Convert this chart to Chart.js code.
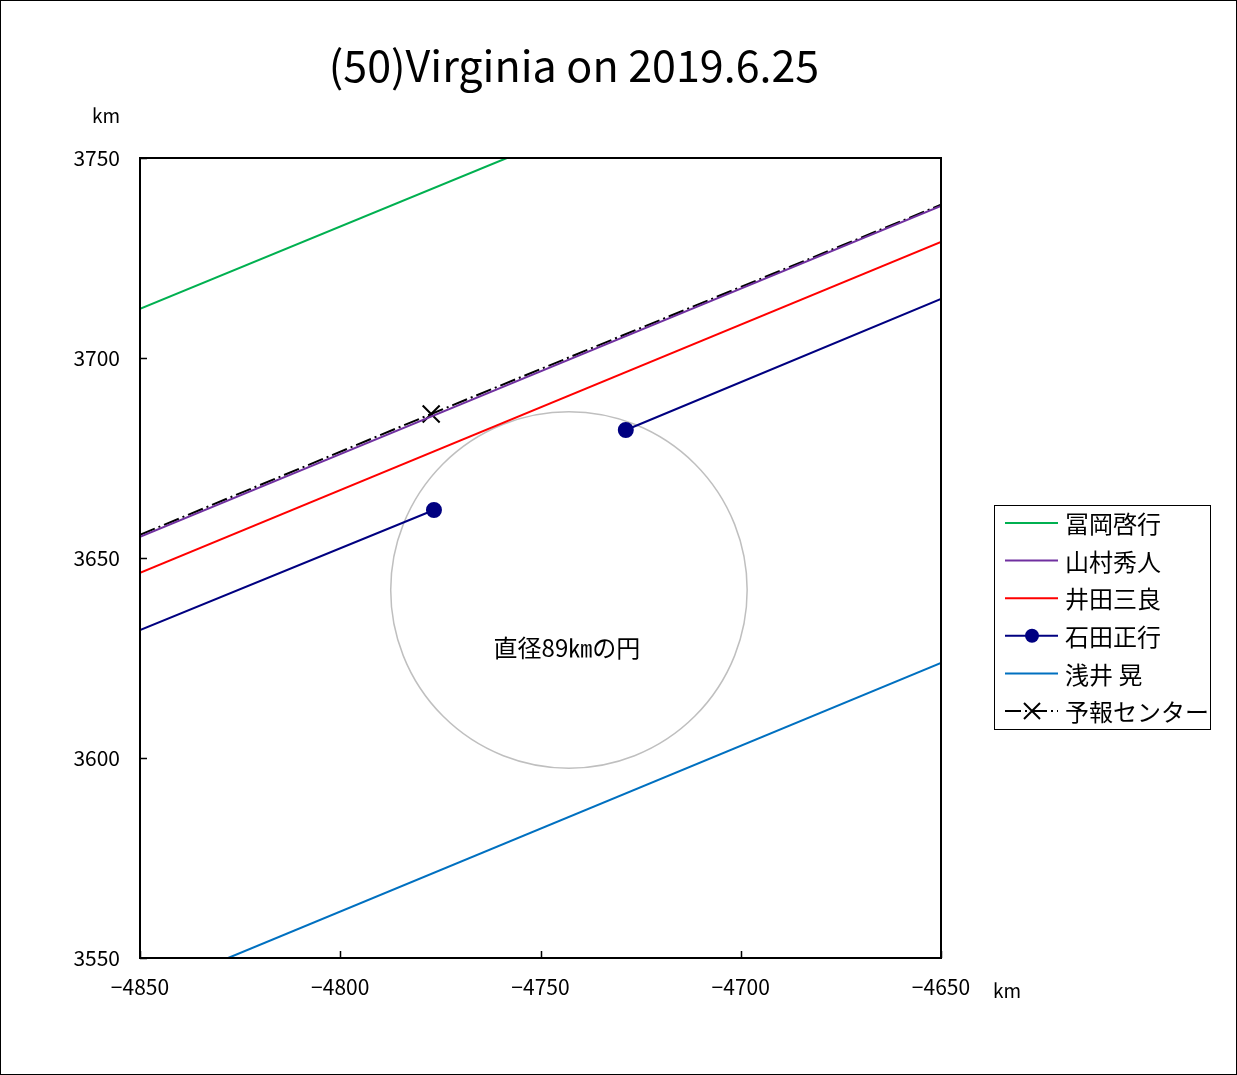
<!DOCTYPE html>
<html>
<head>
<meta charset="utf-8">
<script src="https://cdn.jsdelivr.net/npm/chart.js@4/dist/chart.umd.min.js"></script>
<style>
  html, body { margin: 0; padding: 0; background: #fff; }
  #wrap { width: 1237px; height: 1075px; position: relative; }
</style>
</head>
<body>
<div id="wrap"><canvas id="chart"></canvas></div>
<script>
// values (km)
var titleText = '(50)Virginia on 2019.6.25';
var xTicks = [-4850, -4800, -4750, -4700, -4650];
var yTicks = [3550, 3600, 3650, 3700, 3750];

var tomiokaLine = [{x: -4850, y: 3712.3}, {x: -4758.4, y: 3750}];
var yamamuraLine = [{x: -4850, y: 3655.3}, {x: -4650, y: 3738}];
var idaLine = [{x: -4850, y: 3646.3}, {x: -4650, y: 3729}];
var ishidaLine = [{x: -4850, y: 3632}, {x: -4776.6, y: 3662}, {x: -4750, y: null}, {x: -4728.7, y: 3682}, {x: -4650, y: 3714.8}];
var asaiLine = [{x: -4828, y: 3550}, {x: -4650, y: 3623.8}];
var centerLine = [{x: -4850, y: 3655.8}, {x: -4777.3, y: 3686}, {x: -4650, y: 3738.3}];

var circleCenter = [-4742.9, 3642];
var circleDiameter = 89;
var circleLabel = '直径89㎞の円';

var jp = '"Noto Sans CJK JP", "Noto Sans", sans-serif';

var frame = {
    id: 'frame',
    beforeDraw: (chart) => {
        var ctx = chart.ctx;
        ctx.save();
        ctx.fillStyle = '#fff';
        ctx.fillRect(0, 0, chart.width, chart.height);
        ctx.strokeStyle = '#000';
        ctx.lineWidth = 1;
        ctx.strokeRect(0.5, 0.5, chart.width - 1, chart.height - 1);
        ctx.restore();
    },
    beforeDatasetsDraw: (chart) => {
        var ctx = chart.ctx, xs = chart.scales.x, ys = chart.scales.y;
        var cx = xs.getPixelForValue(circleCenter[0]);
        var cy = ys.getPixelForValue(circleCenter[1]);
        var r = Math.abs(xs.getPixelForValue(circleCenter[0] + circleDiameter / 2) - cx);
        ctx.save();
        ctx.strokeStyle = '#bfbfbf';
        ctx.lineWidth = 1.5;
        ctx.beginPath();
        ctx.arc(cx, cy, r, 0, Math.PI * 2);
        ctx.stroke();
        ctx.fillStyle = '#000';
        ctx.font = '24px ' + jp;
        ctx.textAlign = 'center';
        ctx.textBaseline = 'middle';
        ctx.fillText(circleLabel, cx - 2, cy + 58);
        ctx.restore();
    },
    afterDraw: (chart) => {
        var ctx = chart.ctx, a = chart.chartArea, xs = chart.scales.x, ys = chart.scales.y;
        ctx.save();
        // plot box
        ctx.strokeStyle = '#000';
        ctx.lineWidth = 2;
        ctx.strokeRect(a.left, a.top, a.right - a.left, a.bottom - a.top);
        // inward ticks
        ctx.lineWidth = 1.5;
        ctx.beginPath();
        yTicks.forEach((v) => {
            var p = Math.round(ys.getPixelForValue(v)) + 0.5;
            ctx.moveTo(a.left, p); ctx.lineTo(a.left + 7, p);
        });
        xTicks.forEach((v) => {
            var p = Math.round(xs.getPixelForValue(v)) + 0.5;
            ctx.moveTo(p, a.bottom); ctx.lineTo(p, a.bottom - 7);
        });
        ctx.stroke();
        // title and unit labels
        ctx.fillStyle = '#000';
        ctx.textAlign = 'center';
        ctx.textBaseline = 'middle';
        ctx.font = '43px ' + jp;
        ctx.fillText(titleText, 574, 66);
        ctx.font = '19px ' + jp;
        ctx.fillText('km', 106, 116);
        ctx.fillText('km', 1007, 991);
        // legend
        var lx = 994, ly = 505, lw = 216, lh = 224;
        ctx.lineWidth = 1;
        ctx.strokeRect(lx + 0.5, ly + 0.5, lw, lh);
        ctx.textAlign = 'left';
        ctx.font = '24px ' + jp;
        chart.data.datasets.forEach((ds, i) => {
            var y = ly + 18 + i * 37.6;
            ctx.strokeStyle = ds.borderColor;
            ctx.lineWidth = 2;
            ctx.setLineDash(ds.borderDash || []);
            ctx.beginPath();
            ctx.moveTo(lx + 11, y); ctx.lineTo(lx + 64, y);
            ctx.stroke();
            ctx.setLineDash([]);
            if (ds.legendPoint === 'circle') {
                ctx.fillStyle = ds.borderColor;
                ctx.beginPath();
                ctx.arc(lx + 38, y, 7, 0, Math.PI * 2);
                ctx.fill();
            } else if (ds.legendPoint === 'crossRot') {
                ctx.beginPath();
                ctx.moveTo(lx + 30, y - 8); ctx.lineTo(lx + 46, y + 8);
                ctx.moveTo(lx + 46, y - 8); ctx.lineTo(lx + 30, y + 8);
                ctx.stroke();
            }
            ctx.fillStyle = '#000';
            ctx.fillText(ds.label, lx + 71, y + 1);
        });
        ctx.restore();
    }
};

var minusFmt = (v) => String(v).replace('-', '−');

new Chart(document.getElementById('chart'), {
    type: 'line',
    data: {
        datasets: [
            {label: '冨岡啓行', data: tomiokaLine, borderColor: '#00b050', borderWidth: 2, pointRadius: 0},
            {label: '山村秀人', data: yamamuraLine, borderColor: '#7030a0', borderWidth: 2, pointRadius: 0},
            {label: '井田三良', data: idaLine, borderColor: '#ff0000', borderWidth: 2, pointRadius: 0},
            {label: '石田正行', data: ishidaLine, borderColor: '#000080', backgroundColor: '#000080', borderWidth: 2,
             pointRadius: [0, 7, 0, 7, 0], pointStyle: 'circle', spanGaps: false, legendPoint: 'circle'},
            {label: '浅井 晃', data: asaiLine, borderColor: '#0070c0', borderWidth: 2, pointRadius: 0},
            {label: '予報センター', data: centerLine, borderColor: '#000', backgroundColor: '#000', borderWidth: 2,
             borderDash: [16, 4, 2, 4], pointRadius: [0, 12, 0], pointStyle: 'crossRot', pointBorderWidth: 2,
             legendPoint: 'crossRot'}
        ]
    },
    options: {
        responsive: true,
        maintainAspectRatio: false,
        animation: false,
        layout: {padding: {left: 0, top: 158, right: 296, bottom: 77}},
        plugins: {legend: {display: false}, title: {display: false}, tooltip: {enabled: false}},
        scales: {
            x: {
                type: 'linear', min: -4850, max: -4650,
                afterBuildTicks: (s) => { s.ticks = xTicks.map((v) => ({value: v})); },
                afterFit: (s) => { s.height = 40; },
                grid: {display: false, drawTicks: false},
                border: {display: false},
                ticks: {padding: 16, color: '#000', font: {size: 21, family: jp}, callback: minusFmt, maxRotation: 0}
            },
            y: {
                type: 'linear', min: 3550, max: 3750,
                afterBuildTicks: (s) => { s.ticks = yTicks.map((v) => ({value: v})); },
                afterFit: (s) => { s.width = 140; },
                grid: {display: false, drawTicks: false},
                border: {display: false},
                ticks: {padding: 20, color: '#000', font: {size: 21, family: jp}, callback: (v) => String(v)}
            }
        }
    },
    plugins: [frame]
});
</script>
</body>
</html>
